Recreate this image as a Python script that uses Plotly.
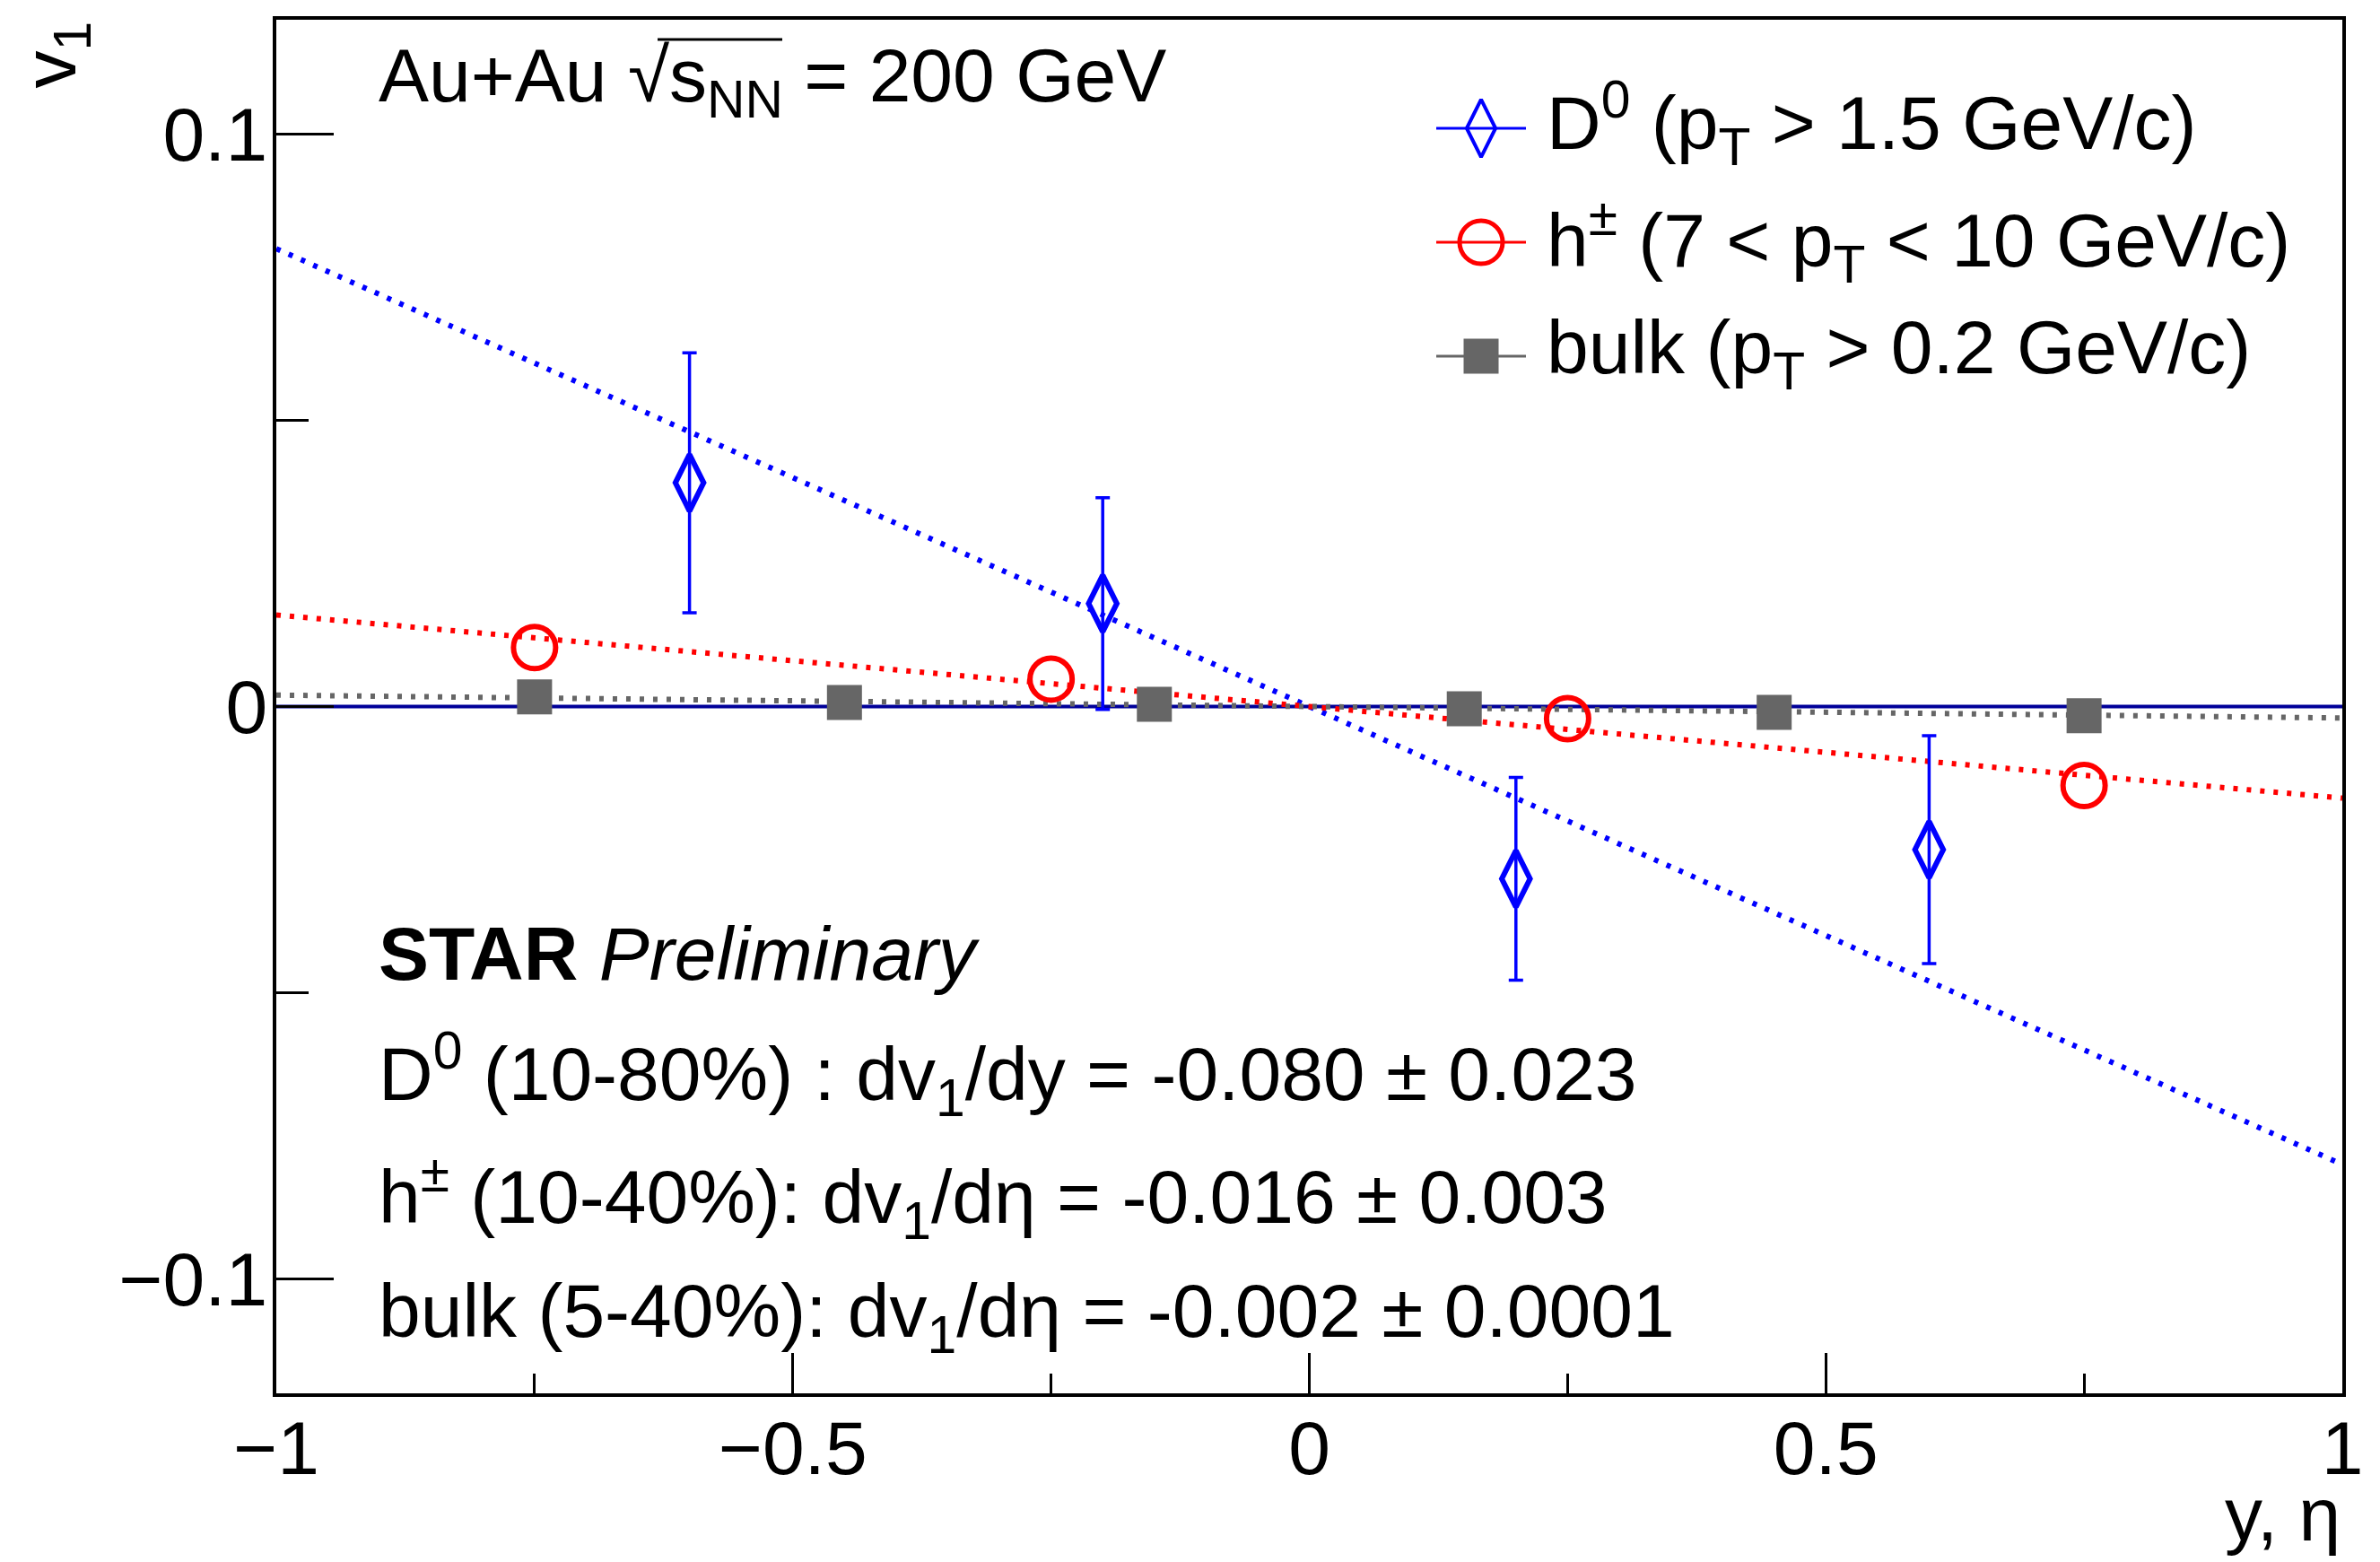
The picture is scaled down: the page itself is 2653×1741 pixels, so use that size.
import numpy as np
import plotly.graph_objects as go

# ---- data -------------------------------------------------------------
# D0 directed flow vs rapidity (10-80%)
d0_y = [-0.6, -0.2, 0.2, 0.6]
d0_v1 = [0.0391, 0.0180, -0.0301, -0.0250]
d0_err = [0.0227, 0.0185, 0.0177, 0.0199]

# charged hadrons, 7 < pT < 10 GeV/c (10-40%)
h_eta = [-0.75, -0.25, 0.25, 0.75]
h_v1 = [0.0103, 0.0048, -0.0021, -0.0138]

# bulk, pT > 0.2 GeV/c (5-40%)
bulk_eta = [-0.75, -0.45, -0.15, 0.15, 0.45, 0.75]
bulk_v1 = [0.0017, 0.0007, 0.0004, -0.0004, -0.0010, -0.0016]

# linear fits through the origin: slope = dv1/dy (dv1/deta)
fit_labels = ["D<sup>0</sup> (10-80%) : dv<sub>1</sub>/dy",
              "h<sup>±</sup> (10-40%): dv<sub>1</sub>/dη",
              "bulk (5-40%): dv<sub>1</sub>/dη"]
fit_slopes = [-0.080, -0.016, -0.002]
fit_errors = [0.023, 0.003, 0.0001]

legend_labels = ["D<sup>0</sup> (p<sub>T</sub> > 1.5 GeV/c)",
                 "h<sup>±</sup> (7 < p<sub>T</sub> < 10 GeV/c)",
                 "bulk (p<sub>T</sub> > 0.2 GeV/c)"]

x_ticks = [-1, -0.5, 0, 0.5, 1]
x_minor = [-0.75, -0.25, 0.25, 0.75]
y_ticks = [-0.1, 0, 0.1]
y_minor = [-0.05, 0.05]

# ---- style -------------------------------------------------------------
FONT = "Liberation Sans, Arial, Helvetica, sans-serif"
FS = 84
BLUE, RED, GRAY = "#0000ff", "#ff0000", "#666666"
colors = [BLUE, RED, GRAY]

W, H = 2653, 1741
ML, MR, MT, MB = 308, 42, 22, 188
PW, PH = W - ML - MR, H - MT - MB


def px_x(px):
    return (px - ML) / PW


def px_y(py):
    return (H - MB - py) / PH


fig = go.Figure()

# fit lines
x_fit = np.array([-1.0, 1.0])
for slope, col in zip(fit_slopes, colors):
    fig.add_trace(go.Scatter(
        x=x_fit, y=slope * x_fit, mode="lines",
        line=dict(color=col, width=6, dash="5px,10px"),
        showlegend=False, hoverinfo="skip"))

# bulk
fig.add_trace(go.Scatter(
    x=bulk_eta, y=bulk_v1, mode="markers",
    marker=dict(symbol="square", size=39, color=GRAY, line=dict(width=0)),
    showlegend=False))

# charged hadrons
fig.add_trace(go.Scatter(
    x=h_eta, y=h_v1, mode="markers",
    marker=dict(symbol="circle-open", size=47, color=RED, line=dict(width=6, color=RED)),
    showlegend=False))

# D0
fig.add_trace(go.Scatter(
    x=d0_y, y=d0_v1, mode="markers",
    marker=dict(symbol="diamond-tall-open", size=45, color=BLUE, line=dict(width=6, color=BLUE)),
    error_y=dict(type="data", array=d0_err, visible=True, color=BLUE, thickness=3.5, width=8),
    showlegend=False))

# ---- hand-drawn legend on an overlay axis spanning the plot area --------
leg_x0, leg_x1 = px_x(1601), px_x(1701)
leg_rows = [px_y(143), px_y(270), px_y(397)]
leg_symbols = [("diamond-tall-open", 46, 4), ("circle-open", 48, 5), ("square", 39, 0)]
for (sym, size, lw), col, yy in zip(leg_symbols, colors, leg_rows):
    fig.add_shape(type="line", xref="paper", yref="paper",
                  x0=leg_x0, x1=leg_x1, y0=yy, y1=yy,
                  line=dict(color=col, width=3))
    fig.add_trace(go.Scatter(
        x=[(leg_x0 + leg_x1) / 2], y=[yy], xaxis="x2", yaxis="y2",
        mode="markers",
        marker=dict(symbol=sym, size=size, color=col, line=dict(width=lw, color=col)),
        showlegend=False, hoverinfo="skip"))

annotations = []
for lab, yy in zip(legend_labels, [px_y(137), px_y(268), px_y(393)]):
    annotations.append(dict(text=lab, x=px_x(1722), y=yy, xanchor="left", yanchor="middle"))

# header: Au+Au sqrt(s_NN) = 200 GeV, with the root bar drawn as a line
annotations.append(dict(
    text="Au+Au √s<sub>NN</sub> = 200 GeV",
    x=px_x(420), y=px_y(90), xanchor="left", yanchor="middle"))
fig.add_shape(type="line", xref="paper", yref="paper",
              x0=px_x(733), x1=px_x(872), y0=px_y(44), y1=px_y(44),
              line=dict(color="black", width=3))

# STAR label and fit results
annotations.append(dict(text="<b>STAR</b> <i>Preliminary</i>",
                        x=px_x(420), y=px_y(1063), xanchor="left", yanchor="middle"))
for lab, s, e, cy in zip(fit_labels, fit_slopes, fit_errors, [1197, 1334, 1467]):
    annotations.append(dict(text=f"{lab} = {s:.3f} ± {e:g}",
                            x=px_x(420), y=px_y(cy), xanchor="left", yanchor="middle"))

# axis titles
annotations.append(dict(text="y, η", x=1.0, y=px_y(1688), xanchor="right", yanchor="middle"))
annotations.append(dict(text="v<sub>1</sub>", x=px_x(60), y=1.0, xanchor="center",
                        yanchor="top", textangle=-90))

for a in annotations:
    a.update(xref="paper", yref="paper", showarrow=False,
             font=dict(family=FONT, size=FS, color="black"))

# zero line
fig.add_shape(type="line", xref="paper", yref="y", x0=0, x1=1, y0=0, y1=0,
              line=dict(color="#000099", width=4), layer="below")

axis_common = dict(showline=True, linecolor="black", linewidth=4, mirror=True,
                   ticks="inside", tickcolor="black", tickwidth=3,
                   showgrid=False, zeroline=False,
                   tickfont=dict(family=FONT, size=FS, color="black"))

fig.update_layout(
    width=W, height=H,
    margin=dict(l=ML, r=MR, t=MT, b=MB),
    paper_bgcolor="white", plot_bgcolor="white",
    showlegend=False,
    annotations=annotations,
    xaxis=dict(range=[-1, 1], tickvals=x_ticks, ticklen=45,
               minor=dict(tickvals=x_minor, ticklen=22, tickwidth=3, ticks="inside",
                          tickcolor="black"),
               ticklabelstandoff=-15, **axis_common),
    yaxis=dict(range=[-0.12, 0.12], tickvals=y_ticks, ticklen=64,
               minor=dict(tickvals=y_minor, ticklen=36, tickwidth=3, ticks="inside",
                          tickcolor="black"),
               ticklabelstandoff=-11, **axis_common),
    xaxis2=dict(overlaying="x", range=[0, 1], visible=False, fixedrange=True),
    yaxis2=dict(overlaying="y", range=[0, 1], visible=False, fixedrange=True),
)

fig.write_html("out.html")
